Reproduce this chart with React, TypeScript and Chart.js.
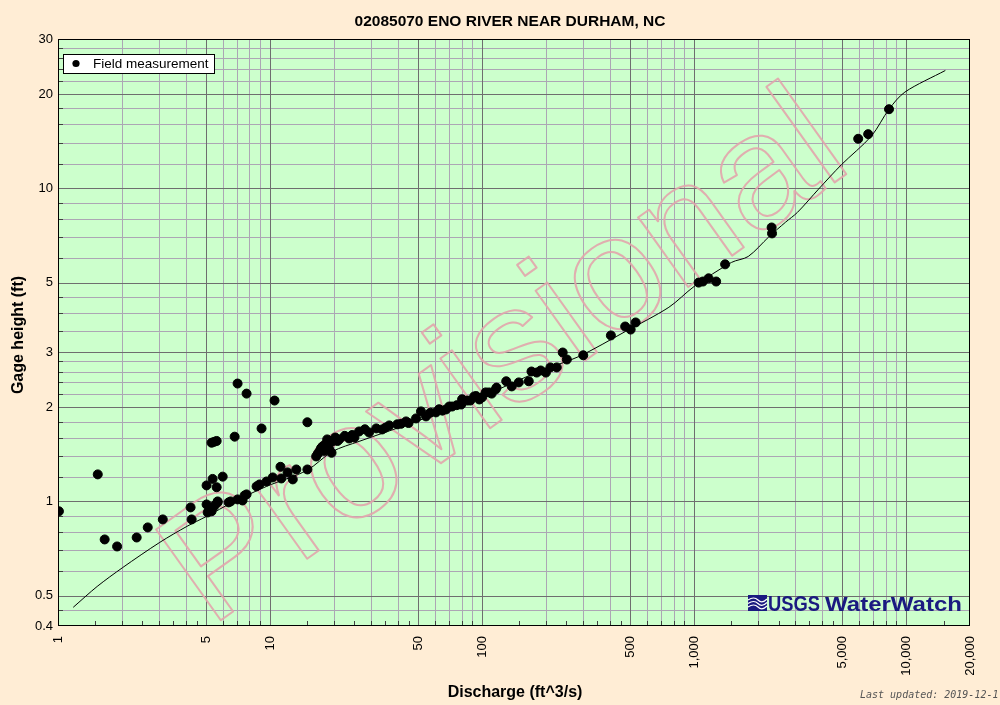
import React, { useEffect, useRef } from "react";
import { Chart, registerables } from "chart.js";

Chart.register(...registerables);

const TITLE = "02085070 ENO RIVER NEAR DURHAM, NC";
const X_TITLE = "Discharge (ft^3/s)";
const Y_TITLE = "Gage height (ft)";
const LEGEND_LABEL = "Field measurement";
const UPDATED = "Last updated: 2019-12-1";
const WATERMARK = "Provisional";

// Field measurements: discharge (ft^3/s) and gage height (ft)
const measQ = [
  1.01, 1.54, 1.66, 1.9, 2.35, 2.65, 3.12, 4.22, 4.27, 5.02, 5.02, 5.08, 5.19, 5.3, 5.36, 5.48, 5.66,
  5.36, 5.6, 5.66, 5.98, 5.3, 5.45, 5.6, 6.38, 6.52, 6.81, 7.03, 7.75, 7.03, 7.42, 7.59, 7.75, 8.64,
  8.92, 9.12, 9.63, 10.3, 10.5, 11.2, 11.3, 12.1, 12.8, 13.3, 15.0, 15.0, 16.5, 17.1, 17.7, 18.0, 18.2,
  18.6, 19.0, 19.5, 19.7, 20.3, 21.2, 22.5, 23.6, 25.0, 26.3, 28.0, 29.3, 31.7, 33.8, 35.0, 36.5, 39.8,
  43.8, 45.0, 48.8, 51.5, 54.4, 57.0, 60.6, 62.7, 67.6, 70.0, 72.2, 79.7, 80.5, 85.0, 91.8, 93.8, 97.0,
  100, 104, 108, 111, 116, 117, 130, 138, 149, 166, 171, 181, 189, 200, 210, 225, 240, 251, 300, 405,
  473, 502, 530, 1050, 1100, 1170, 1270, 1400, 2320, 2330, 5940, 6620, 8300,
  16.8, 17.4, 18.4, 19.2, 20.8, 24.4, 41.5, 65.0, 76.0, 88.0,
];
const measH = [
  0.93, 1.22, 0.756, 0.718, 0.767, 0.826, 0.876, 0.957, 0.876, 1.125, 0.978, 0.922, 0.943, 0.93, 0.955, 0.97, 0.993,
  1.18, 1.11, 1.0, 1.2, 1.54, 1.55, 1.56, 0.993, 1.0, 1.61, 2.38, 2.21, 1.015, 1.007, 1.045, 1.053, 1.117,
  1.133, 1.71, 1.158, 1.193, 2.1, 1.29, 1.184, 1.238, 1.176, 1.265, 1.79, 1.265, 1.392, 1.444, 1.499, 1.45, 1.52,
  1.578, 1.47, 1.43, 1.555, 1.6, 1.578, 1.62, 1.589, 1.6, 1.673, 1.7, 1.661, 1.711, 1.698, 1.72, 1.749, 1.763,
  1.801, 1.78, 1.841, 1.939, 1.869, 1.92, 1.925, 1.97, 1.967, 2.01, 2.01, 2.04, 2.12, 2.1, 2.165, 2.17, 2.117,
  2.15, 2.23, 2.229, 2.21, 2.28, 2.31, 2.42, 2.33, 2.4, 2.42, 2.6, 2.58, 2.62, 2.58, 2.68, 2.68, 2.99, 2.84, 2.93, 3.39,
  3.62, 3.54, 3.73, 5.0, 5.04, 5.16, 5.04, 5.72, 7.5, 7.18, 14.4, 14.9, 17.9,
  1.42, 1.48, 1.5, 1.55, 1.56, 1.63, 1.77, 1.95, 2.03, 2.1,
];

// Rating curve
const ratingQ = [
  1.18, 1.53, 2.02, 3.02, 4.05, 5.02, 6.65, 9.63, 14.9, 19.7, 26.3, 48.8, 100, 185, 285, 474, 760, 1000,
  1500, 1800, 2250, 2700, 3070, 3860, 4950, 6860, 8300, 9860, 15300,
];
const ratingH = [
  0.459, 0.535, 0.615, 0.74, 0.832, 0.896, 0.993, 1.117, 1.256, 1.444, 1.555, 1.8, 2.165, 2.6, 2.9, 3.49, 4.17, 4.86,
  5.8, 6.06, 7.0, 7.8, 8.38, 9.94, 11.9, 14.7, 17.9, 20.3, 23.8,
];

const xTickValues = [1, 5, 10, 50, 100, 500, 1000, 5000, 10000, 20000];
const xTickLabels = ["1", "5", "10", "50", "100", "500", "1,000", "5,000", "10,000", "20,000"];
const yTickValues = [0.4, 0.5, 1, 2, 3, 5, 10, 20, 30];
const yTickLabels = ["0.4", "0.5", "1", "2", "3", "5", "10", "20", "30"];

const xGridMajor = [5, 10, 50, 100, 500, 1000, 5000, 10000];
const xGridMinor = [2, 3, 4, 6, 7, 8, 9, 20, 30, 40, 60, 70, 80, 90, 200, 300, 400, 600, 700, 800, 900, 2000, 3000, 4000, 6000, 7000, 8000, 9000];
const xHalfTicks = [1.5, 2.5, 3.5, 4.5, 15, 25, 35, 45, 150, 250, 350, 450, 1500, 2500, 3500, 4500, 15000];
const yGridMajor = [0.5, 1, 2, 3, 5, 10, 20];
const yGridMinor = [0.45, 0.6, 0.7, 0.8, 0.9, 1.2, 1.4, 1.6, 1.8, 2.2, 2.4, 2.6, 2.8, 3.5, 4, 4.5, 6, 7, 8, 9, 12, 14, 16, 18, 22, 24, 26, 28];

const OUTER_BG = "#FFEDD5";
const PLOT_BG = "#CCFFCC";
const GRID_LIGHT = "#ACA6B4";
const GRID_DARK = "#6E6E6E";
const FONT = '"Liberation Sans", Arial, sans-serif';

const decor = {
  id: "decor",
  beforeDraw(chart: any) {
    const { ctx, chartArea: a } = chart;
    ctx.save();
    ctx.fillStyle = OUTER_BG;
    ctx.fillRect(0, 0, chart.width, chart.height);
    ctx.fillStyle = PLOT_BG;
    ctx.fillRect(a.left, a.top, a.right - a.left, a.bottom - a.top);
    ctx.restore();
  },
  beforeDatasetsDraw(chart: any) {
    const { ctx, chartArea: a } = chart;
    const xs = chart.scales.x;
    const ys = chart.scales.y;
    ctx.save();
    ctx.beginPath();
    ctx.rect(a.left, a.top, a.right - a.left, a.bottom - a.top);
    ctx.clip();
    ctx.lineWidth = 1;
    const vline = (v: number, color: string) => {
      const x = Math.round(xs.getPixelForValue(v)) + 0.5;
      ctx.strokeStyle = color;
      ctx.beginPath();
      ctx.moveTo(x, a.top);
      ctx.lineTo(x, a.bottom);
      ctx.stroke();
    };
    const hline = (v: number, color: string) => {
      const y = Math.round(ys.getPixelForValue(v)) + 0.5;
      ctx.strokeStyle = color;
      ctx.beginPath();
      ctx.moveTo(a.left, y);
      ctx.lineTo(a.right, y);
      ctx.stroke();
    };
    xGridMinor.forEach((v) => vline(v, GRID_LIGHT));
    yGridMinor.forEach((v) => hline(v, GRID_LIGHT));
    xGridMajor.forEach((v) => vline(v, GRID_DARK));
    yGridMajor.forEach((v) => hline(v, GRID_DARK));

    // minor tick marks inside the plot
    ctx.strokeStyle = "#404040";
    [...xGridMinor, ...xHalfTicks].forEach((v) => {
      const x = Math.round(xs.getPixelForValue(v)) + 0.5;
      ctx.beginPath();
      ctx.moveTo(x, a.bottom);
      ctx.lineTo(x, a.bottom - 5);
      ctx.stroke();
    });
    yGridMinor.forEach((v) => {
      const y = Math.round(ys.getPixelForValue(v)) + 0.5;
      ctx.beginPath();
      ctx.moveTo(a.left, y);
      ctx.lineTo(a.left + 5, y);
      ctx.stroke();
    });

    // watermark
    ctx.translate(a.left + 152, a.bottom + 2);
    ctx.rotate((-35.5 * Math.PI) / 180);
    ctx.font = `162px ${FONT}`;
    ctx.lineWidth = 2;
    ctx.lineJoin = "round";
    ctx.strokeStyle = "rgba(226,165,172,0.9)";
    ctx.textBaseline = "alphabetic";
    ctx.textAlign = "left";
    ctx.strokeText(WATERMARK, 0, 0);
    ctx.restore();
  },
  afterDatasetsDraw(chart: any) {
    const { ctx, chartArea: a } = chart;
    ctx.save();
    // border
    ctx.strokeStyle = "#000";
    ctx.lineWidth = 1;
    ctx.strokeRect(a.left + 0.5, a.top + 0.5, a.right - a.left - 1, a.bottom - a.top - 1);

    // legend
    const lx = a.left + 5;
    const ly = a.top + 15;
    ctx.fillStyle = "#fff";
    ctx.fillRect(lx, ly, 152, 20);
    ctx.strokeStyle = "#000";
    ctx.strokeRect(lx + 0.5, ly + 0.5, 151, 19);
    ctx.fillStyle = "#000";
    ctx.beginPath();
    ctx.arc(lx + 13, ly + 9.5, 3.6, 0, Math.PI * 2);
    ctx.fill();
    ctx.font = `13.5px ${FONT}`;
    ctx.textBaseline = "middle";
    ctx.textAlign = "left";
    ctx.fillText(LEGEND_LABEL, lx + 30, ly + 10.5);

    // USGS WaterWatch logo
    const navy = "#1A1A80";
    const bx = 748;
    const by = 595;
    ctx.fillStyle = navy;
    ctx.fillRect(bx, by, 19, 16);
    ctx.strokeStyle = "#ffffff";
    ctx.lineWidth = 1.2;
    for (let i = 0; i < 3; i++) {
      ctx.beginPath();
      const yy = by + 5 + i * 3.5;
      ctx.moveTo(bx, yy);
      ctx.quadraticCurveTo(bx + 6, yy - 4, bx + 10, yy);
      ctx.quadraticCurveTo(bx + 14, yy + 4, bx + 19, yy - 1);
      ctx.stroke();
    }
    ctx.fillStyle = navy;
    ctx.textBaseline = "alphabetic";
    const drawFit = (text: string, x: number, y: number, w: number) => {
      const m = ctx.measureText(text).width;
      ctx.save();
      ctx.translate(x, y);
      ctx.scale(w / m, 1);
      ctx.fillText(text, 0, 0);
      ctx.restore();
    };
    ctx.font = `bold 22px ${FONT}`;
    drawFit("USGS", 768, 611, 52);
    ctx.font = `bold 21px ${FONT}`;
    drawFit("WaterWatch", 825, 611, 137);
    ctx.restore();
  },
  afterDraw(chart: any) {
    const { ctx, chartArea: a } = chart;
    ctx.save();
    ctx.fillStyle = "#000";
    ctx.textBaseline = "alphabetic";
    ctx.textAlign = "center";
    ctx.font = `bold 15.5px ${FONT}`;
    ctx.fillText(TITLE, 510, 26);
    ctx.font = `bold 16px ${FONT}`;
    ctx.fillText(X_TITLE, (a.left + a.right) / 2 + 1, 697);
    ctx.save();
    ctx.translate(23, 335);
    ctx.rotate(-Math.PI / 2);
    ctx.fillText(Y_TITLE, 0, 0);
    ctx.restore();
    ctx.font = `italic 10px "DejaVu Sans Mono", monospace`;
    ctx.fillStyle = "#555";
    ctx.textAlign = "left";
    ctx.fillText(UPDATED, 860, 698);
    ctx.restore();
  },
};

export default function App() {
  const ref = useRef<HTMLCanvasElement>(null);
  useEffect(() => {
    document.body.style.margin = "0";
    const canvas = ref.current;
    if (!canvas) return;
    const chart = new Chart(canvas, {
      type: "scatter",
      data: {
        datasets: [
          {
            label: LEGEND_LABEL,
            data: measQ.map((q, i) => ({ x: q, y: measH[i] })),
            pointRadius: 4.5,
            pointStyle: "circle",
            backgroundColor: "#000",
            borderColor: "#000",
            borderWidth: 1,
            showLine: false,
            order: 0,
          },
          {
            label: "Rating",
            data: ratingQ.map((q, i) => ({ x: q, y: ratingH[i] })),
            showLine: true,
            pointRadius: 0,
            borderColor: "#000",
            borderWidth: 1,
            tension: 0.3,
            order: 1,
          },
        ],
      },
      options: {
        animation: false,
        responsive: false,
        maintainAspectRatio: false,
        layout: { padding: { top: 39, right: 30, left: 0, bottom: 0 } },
        plugins: {
          legend: { display: false },
          tooltip: { enabled: false },
          title: { display: false },
        },
        scales: {
          x: {
            type: "logarithmic",
            position: "bottom",
            min: 1,
            max: 20000,
            grid: { display: false, drawTicks: false },
            border: { display: false },
            afterBuildTicks: (s: any) => {
              s.ticks = xTickValues.map((v) => ({ value: v }));
            },
            afterFit: (s: any) => {
              s.height = 79;
            },
            ticks: {
              autoSkip: false,
              minRotation: 90,
              maxRotation: 90,
              padding: 10,
              color: "#000",
              font: { family: FONT, size: 13 },
              callback: (v: any) => {
                const i = xTickValues.indexOf(Number(v));
                return i >= 0 ? xTickLabels[i] : "";
              },
            },
          },
          y: {
            type: "logarithmic",
            position: "left",
            min: 0.4,
            max: 30,
            grid: { display: false, drawTicks: false },
            border: { display: false },
            afterBuildTicks: (s: any) => {
              s.ticks = yTickValues.map((v) => ({ value: v }));
            },
            afterFit: (s: any) => {
              s.width = 58;
            },
            ticks: {
              autoSkip: false,
              padding: 5,
              color: "#000",
              font: { family: FONT, size: 13 },
              callback: (v: any) => {
                const i = yTickValues.indexOf(Number(v));
                return i >= 0 ? yTickLabels[i] : "";
              },
            },
          },
        },
      },
      plugins: [decor],
    } as any);
    return () => chart.destroy();
  }, []);
  return (
    <div style={{ width: 1000, height: 705 }}>
      <canvas ref={ref} width={1000} height={705} style={{ display: "block" }} />
    </div>
  );
}
